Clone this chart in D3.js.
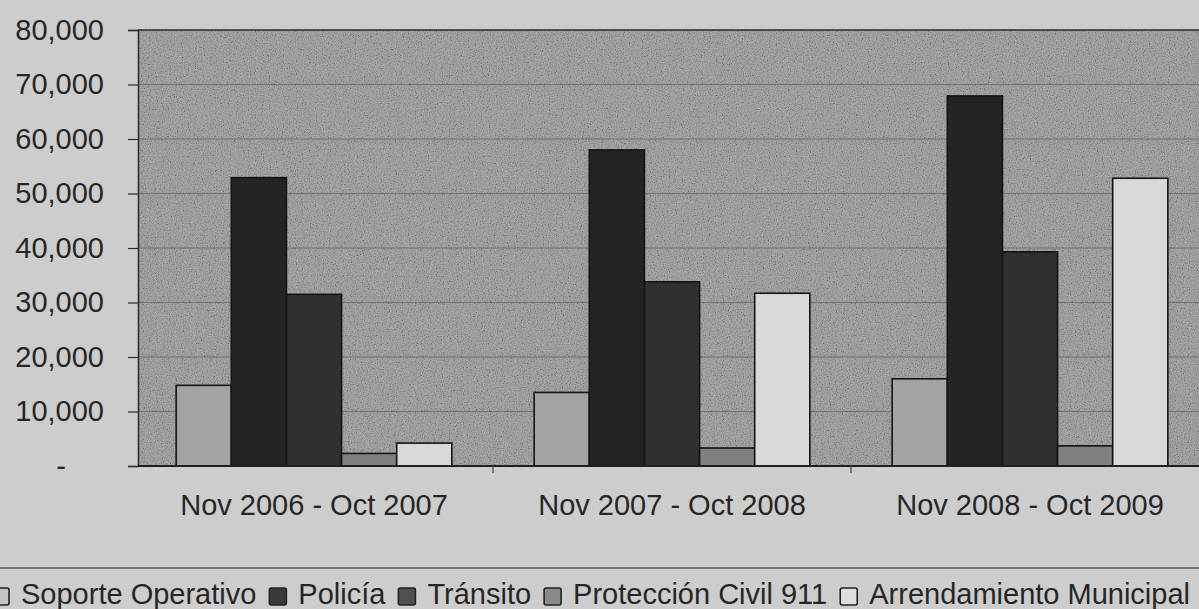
<!DOCTYPE html>
<html>
<head>
<meta charset="utf-8">
<script src="https://cdn.jsdelivr.net/npm/d3@7"></script>
<style>
  html, body { margin: 0; padding: 0; background: #cbcbcb; }
  svg { display: block; }
  text { font-family: "Liberation Sans", Arial, sans-serif; }
</style>
</head>
<body>
<svg id="chart" width="1199" height="609"></svg>
<script>
// ---- Data ----
const categories = ["Nov 2006 - Oct 2007", "Nov 2007 - Oct 2008", "Nov 2008 - Oct 2009"];
const seriesNames = ["Soporte Operativo", "Policía", "Tránsito", "Protección Civil 911", "Arrendamiento Municipal"];
const soporteOperativo = [14800, 13500, 16000];
const policia = [52900, 58000, 67900];
const transito = [31500, 33800, 39300];
const proteccionCivil = [2300, 3300, 3700];
const arrendamientoMunicipal = [4200, 31700, 52800];
const yTickValues = [0, 10000, 20000, 30000, 40000, 50000, 60000, 70000, 80000];
const seriesColors = ["#a3a3a3", "#242424", "#303030", "#808080", "#d9d9d9"];
const legendColors = ["#c4c4c4", "#3a3a3a", "#505050", "#8a8a8a", "#dedede"];

const seriesValues = [soporteOperativo, policia, transito, proteccionCivil, arrendamientoMunicipal];
const table = categories.map((c, i) => ({
  category: c,
  values: seriesNames.map((s, j) => ({ series: s, value: seriesValues[j][i], color: seriesColors[j] }))
}));

// ---- Layout ----
const W = 1199, H = 609;
const plotLeft = 138, plotTop = 30, plotBottom = 466;
const svg = d3.select("#chart");

const defs = svg.append("defs");
const f = defs.append("filter").attr("id", "grain").attr("x", 0).attr("y", 0).attr("width", 1).attr("height", 1);
f.append("feTurbulence").attr("type", "fractalNoise").attr("baseFrequency", 0.85).attr("numOctaves", 2).attr("seed", 3);
f.append("feColorMatrix").attr("type", "matrix")
  .attr("values", "2 0 0 0 -0.5  2 0 0 0 -0.5  2 0 0 0 -0.5  0 0 0 0 0.22");

const x0 = d3.scaleBand().domain(categories).range([135, 135 + 3 * 358]).paddingInner(0).paddingOuter(0);
const gap = x0.bandwidth() * 0.23;
const x1 = d3.scaleBand().domain(seriesNames).range([gap / 2, x0.bandwidth() - gap / 2]).padding(0);
const y = d3.scaleLinear().domain([0, 80000]).range([plotBottom, plotTop]);

// background
svg.append("rect").attr("x", 0).attr("y", 0).attr("width", W).attr("height", H).attr("fill", "#cdcdcd");

// plot area
svg.append("rect")
  .attr("x", plotLeft).attr("y", plotTop)
  .attr("width", W - plotLeft + 10).attr("height", plotBottom - plotTop)
  .attr("fill", "#949494");
svg.append("rect")
  .attr("x", plotLeft).attr("y", plotTop)
  .attr("width", W - plotLeft + 10).attr("height", plotBottom - plotTop)
  .attr("fill", "#949494")
  .attr("filter", "url(#grain)");

// gridlines
svg.append("g").selectAll("line")
  .data(yTickValues.filter(d => d > 0 && d < 80000))
  .join("line")
  .attr("x1", plotLeft).attr("x2", W + 10)
  .attr("y1", d => y(d)).attr("y2", d => y(d))
  .attr("stroke", "#727272").attr("stroke-width", 1.2);

// top border
svg.append("line").attr("x1", plotLeft).attr("x2", W + 10)
  .attr("y1", y(80000)).attr("y2", y(80000)).attr("stroke", "#2a2a2a").attr("stroke-width", 1.5);

// bars
const groups = svg.append("g").selectAll("g")
  .data(table).join("g")
  .attr("transform", d => `translate(${x0(d.category)},0)`);
groups.selectAll("rect")
  .data(d => d.values).join("rect")
  .attr("x", d => x1(d.series))
  .attr("y", d => y(d.value))
  .attr("width", x1.bandwidth())
  .attr("height", d => y(0) - y(d.value))
  .attr("fill", d => d.color)
  .attr("stroke", "#141414").attr("stroke-width", 1.6);

// y axis
const yAxis = d3.axisLeft(y).tickValues(yTickValues).tickSize(10).tickPadding(24)
  .tickFormat(d => d === 0 ? "-" : d3.format(",")(d));
const yg = svg.append("g").attr("transform", `translate(${plotLeft},0)`).call(yAxis);
yg.select(".domain").attr("stroke", "#2a2a2a").attr("stroke-width", 1.5);
yg.selectAll(".tick line").attr("stroke", "#2a2a2a").attr("stroke-width", 1.2);
yg.selectAll(".tick text")
  .attr("font-size", 29).attr("fill", "#262626")
  .attr("font-family", "Liberation Sans, Arial, sans-serif")
  .attr("x", d => d === 0 ? -72 : -34);

// x axis
const xAxis = d3.axisBottom(x0).tickSize(0).tickPadding(28);
const xg = svg.append("g").attr("transform", `translate(0,${plotBottom})`).call(xAxis);
xg.select(".domain").attr("stroke", "#1e1e1e").attr("stroke-width", 2).attr("d", `M${plotLeft},0H${W + 10}`);
xg.selectAll(".tick text")
  .attr("font-size", 29).attr("fill", "#262626")
  .attr("font-family", "Liberation Sans, Arial, sans-serif");
// category separator ticks
xg.append("g").selectAll("line")
  .data(categories.slice(1))
  .join("line")
  .attr("x1", d => x0(d)).attr("x2", d => x0(d))
  .attr("y1", 0).attr("y2", 7)
  .attr("stroke", "#444").attr("stroke-width", 1.2);

// legend
svg.append("line").attr("x1", 0).attr("x2", W).attr("y1", 568).attr("y2", 568)
  .attr("stroke", "#555").attr("stroke-width", 1.5);
const legend = svg.append("g");
let lx = -8;
seriesNames.forEach((s, i) => {
  legend.append("rect")
    .attr("x", lx).attr("y", 588).attr("width", 17).attr("height", 17).attr("rx", 2)
    .attr("fill", legendColors[i]).attr("stroke", "#222").attr("stroke-width", 1.6);
  const t = legend.append("text")
    .attr("x", lx + 29).attr("y", 604)
    .attr("font-size", 29).attr("fill", "#262626")
    .text(s);
  lx = lx + 29 + t.node().getComputedTextLength() + 13;
});
</script>
</body>
</html>
